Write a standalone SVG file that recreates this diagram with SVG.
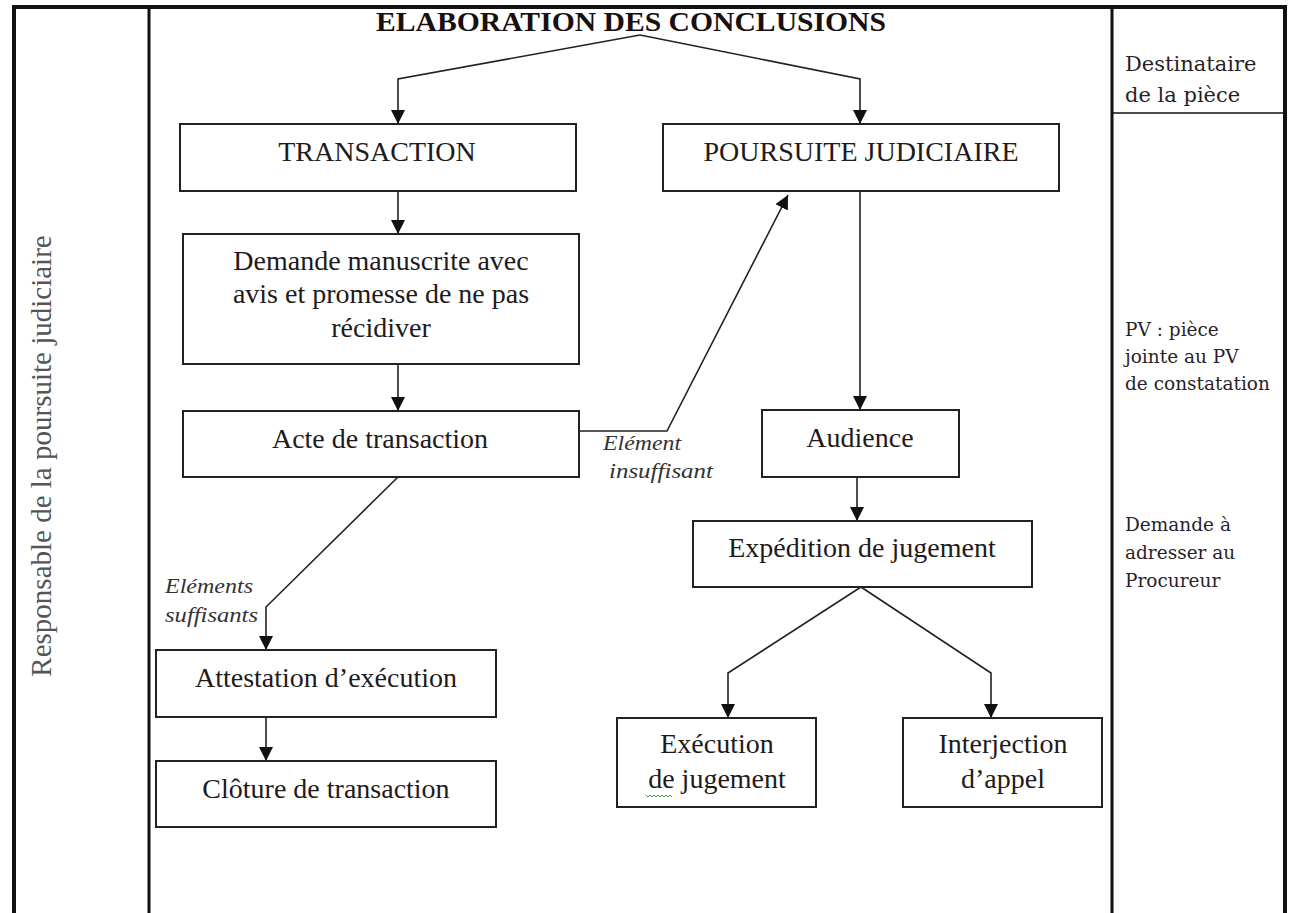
<svg xmlns="http://www.w3.org/2000/svg" width="1292" height="913" viewBox="0 0 1292 913">
  <style>
    .frame { stroke: #111; fill: none; }
    .box { fill: #fff; stroke: #222; stroke-width: 2; }
    .conn { fill: none; stroke: #222; stroke-width: 1.6; }
    .t { font-family: "Liberation Serif", "Times New Roman", serif; font-size: 28px; fill: #221a1a; text-anchor: middle; }
    .title { font-family: "Liberation Serif", "Times New Roman", serif; font-size: 28px; font-weight: bold; fill: #1a0f0f; text-anchor: middle; }
    .side { font-family: "Liberation Serif", "Times New Roman", serif; font-size: 29px; fill: #555; text-anchor: middle; }
    .dest { font-family: "DejaVu Serif", "Liberation Serif", serif; font-size: 21px; fill: #2a1f22; }
    .note { font-family: "DejaVu Serif", "Liberation Serif", serif; font-size: 18.5px; fill: #2a1f2a; }
    .lbl { font-family: "Liberation Serif", "Times New Roman", serif; font-size: 21px; font-style: italic; fill: #333; }
  </style>
  <defs>
    <marker id="arrow" viewBox="0 0 14 14" refX="14" refY="7" markerWidth="14" markerHeight="14" markerUnits="userSpaceOnUse" orient="auto">
      <path d="M0,0 L14,7 L0,14 Z" fill="#111"/>
    </marker>
  </defs>

  <rect width="1292" height="913" fill="#fff"/>

  <!-- table frame -->
  <g id="frame">
    <line class="frame" x1="12" y1="7" x2="1287" y2="7" stroke-width="4"/>
    <line class="frame" x1="14" y1="5" x2="14" y2="913" stroke-width="4"/>
    <line class="frame" x1="149" y1="7" x2="149" y2="913" stroke-width="3"/>
    <line class="frame" x1="1112" y1="7" x2="1112" y2="913" stroke-width="3"/>
    <line class="frame" x1="1285" y1="5" x2="1285" y2="913" stroke-width="4"/>
    <line class="frame" x1="1112" y1="113" x2="1285" y2="113" stroke-width="1.5"/>
  </g>

  <!-- left column -->
  <g id="responsable">
    <text class="side" transform="translate(51,456) rotate(-90)">Responsable de la poursuite judiciaire</text>
  </g>

  <!-- right column -->
  <g id="destinataire">
    <text class="dest" x="1125" y="71">Destinataire</text>
    <text class="dest" x="1125" y="102">de la pièce</text>
  </g>
  <g id="note-pv">
    <text class="note" x="1125" y="336">PV : pièce</text>
    <text class="note" x="1125" y="363">jointe au PV</text>
    <text class="note" x="1125" y="390">de constatation</text>
  </g>
  <g id="note-procureur">
    <text class="note" x="1125" y="531">Demande à</text>
    <text class="note" x="1125" y="559">adresser au</text>
    <text class="note" x="1125" y="587">Procureur</text>
  </g>

  <!-- connectors -->
  <g id="connectors">
    <polyline class="conn" points="640,35 398,79 398,124" marker-end="url(#arrow)"/>
    <polyline class="conn" points="640,35 860,79 860,124" marker-end="url(#arrow)"/>
    <line class="conn" x1="398" y1="191" x2="398" y2="234" marker-end="url(#arrow)"/>
    <line class="conn" x1="398" y1="364" x2="398" y2="411" marker-end="url(#arrow)"/>
    <polyline class="conn" points="579,431 667,431 788,195" marker-end="url(#arrow)"/>
    <polyline class="conn" points="398,477 266,607 266,650" marker-end="url(#arrow)"/>
    <line class="conn" x1="266" y1="717" x2="266" y2="761" marker-end="url(#arrow)"/>
    <line class="conn" x1="860" y1="191" x2="860" y2="410" marker-end="url(#arrow)"/>
    <line class="conn" x1="857" y1="477" x2="857" y2="521" marker-end="url(#arrow)"/>
    <polyline class="conn" points="861,587 728,673 728,718" marker-end="url(#arrow)"/>
    <polyline class="conn" points="861,587 991,673 991,718" marker-end="url(#arrow)"/>
    <text class="lbl" x="603" y="450" textLength="78" lengthAdjust="spacingAndGlyphs">Elément</text>
    <text class="lbl" x="609" y="478" textLength="104" lengthAdjust="spacingAndGlyphs">insuffisant</text>
    <text class="lbl" x="165" y="593" textLength="88" lengthAdjust="spacingAndGlyphs">Eléments</text>
    <text class="lbl" x="165" y="622" textLength="93" lengthAdjust="spacingAndGlyphs">suffisants</text>
  </g>

  <!-- title -->
  <g id="elaboration">
    <text class="title" x="631" y="31" textLength="510" lengthAdjust="spacingAndGlyphs">ELABORATION DES CONCLUSIONS</text>
  </g>

  <!-- transaction branch -->
  <g id="transaction">
    <rect class="box" x="180" y="124" width="396" height="67"/>
    <text class="t" x="377" y="161">TRANSACTION</text>
  </g>
  <g id="demande">
    <rect class="box" x="183" y="234" width="396" height="130"/>
    <text class="t" x="381" y="270">Demande manuscrite avec</text>
    <text class="t" x="381" y="303">avis et promesse de ne pas</text>
    <text class="t" x="381" y="337">récidiver</text>
  </g>
  <g id="acte">
    <rect class="box" x="183" y="411" width="396" height="66"/>
    <text class="t" x="380" y="448">Acte de transaction</text>
  </g>
  <g id="attestation">
    <rect class="box" x="156" y="650" width="340" height="67"/>
    <text class="t" x="326" y="687">Attestation d’exécution</text>
  </g>
  <g id="cloture">
    <rect class="box" x="156" y="761" width="340" height="66"/>
    <text class="t" x="326" y="798">Clôture de transaction</text>
  </g>

  <!-- judicial branch -->
  <g id="poursuite">
    <rect class="box" x="663" y="124" width="396" height="67"/>
    <text class="t" x="861" y="161">POURSUITE JUDICIAIRE</text>
  </g>
  <g id="audience">
    <rect class="box" x="762" y="410" width="197" height="67"/>
    <text class="t" x="860" y="447">Audience</text>
  </g>
  <g id="expedition">
    <rect class="box" x="693" y="521" width="339" height="66"/>
    <text class="t" x="862" y="557">Expédition de jugement</text>
  </g>
  <g id="execution">
    <rect class="box" x="617" y="718" width="199" height="89"/>
    <text class="t" x="717" y="753">Exécution</text>
    <text class="t" x="717" y="788">de jugement</text>
    <path d="M646,795 l2,2 l2,-2 l2,2 l2,-2 l2,2 l2,-2 l2,2 l2,-2 l2,2 l2,-2 l2,2 l2,-2 l2,2" fill="none" stroke="#3a9a3a" stroke-width="1"/>
  </g>
  <g id="interjection">
    <rect class="box" x="903" y="718" width="199" height="89"/>
    <text class="t" x="1003" y="753">Interjection</text>
    <text class="t" x="1003" y="788">d’appel</text>
  </g>
</svg>
